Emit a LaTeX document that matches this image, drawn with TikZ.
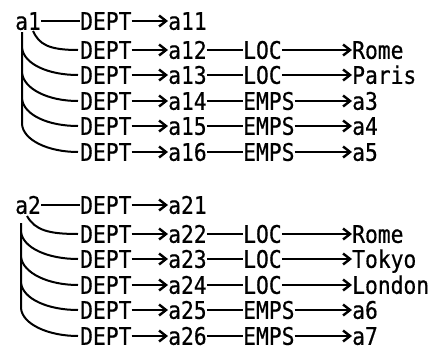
\documentclass[tikz,border=0pt]{standalone}
\usepackage{fontspec}
\newfontfamily\monofont[FakeStretch=0.88, FakeBold=0.6]{DejaVu Sans Mono}
\usetikzlibrary{arrows.meta}

\begin{document}
\begin{tikzpicture}[x=1pt, y=-1pt,
  lbl/.style={inner sep=0pt, anchor=west, text height=17.6pt, text depth=0pt, font=\monofont\fontsize{24.2}{26}\selectfont},
  link/.style={line width=2pt},
  ptr/.style={line width=2pt, -{Straight Barb[length=7pt, width=11pt, line width=2.4pt]}}]
  \useasboundingbox (0,0) rectangle (431,359);
  % first object
  \node[lbl] (src1) at (15,21) {a1};
  \node[lbl] (d11) at (80,21) {DEPT};
  \node[lbl] (n11) at (168,21) {a11};
  \node[lbl] (d12) at (80,50) {DEPT};
  \node[lbl] (n12) at (168,50) {a12};
  \node[lbl] (m12) at (243,50) {LOC};
  \node[lbl] (t12) at (352,50) {Rome};
  \node[lbl] (d13) at (80,75) {DEPT};
  \node[lbl] (n13) at (168,75) {a13};
  \node[lbl] (m13) at (243,75) {LOC};
  \node[lbl] (t13) at (352,75) {Paris};
  \node[lbl] (d14) at (80,101) {DEPT};
  \node[lbl] (n14) at (168,101) {a14};
  \node[lbl] (m14) at (243,101) {EMPS};
  \node[lbl] (t14) at (352,101) {a3};
  \node[lbl] (d15) at (80,126) {DEPT};
  \node[lbl] (n15) at (168,126) {a15};
  \node[lbl] (m15) at (243,126) {EMPS};
  \node[lbl] (t15) at (352,126) {a4};
  \node[lbl] (d16) at (80,152) {DEPT};
  \node[lbl] (n16) at (168,152) {a16};
  \node[lbl] (m16) at (243,152) {EMPS};
  \node[lbl] (t16) at (352,152) {a5};
  \coordinate (s12) at (33,31);
  \coordinate (k13) at (22,48);
  \coordinate (k14) at (22,73);
  \coordinate (k15) at (22,99);
  \coordinate (k16) at (22,124);
  \coordinate (top1) at (22,32);
  \draw[link] (src1) -- (d11);
  \draw[link] (s12) .. controls +(6,13) and +(-30,0) .. ([xshift=-2pt]d12.west);
  \draw[link] (top1) -- (k16) .. controls +(1,16) and +(-30,0) .. ([xshift=-2pt]d16.west);
  \draw[link] (k13) .. controls +(2,16) and +(-30,0) .. ([xshift=-2pt]d13.west);
  \draw[link] (k14) .. controls +(2,16) and +(-30,0) .. ([xshift=-2pt]d14.west);
  \draw[link] (k15) .. controls +(2,16) and +(-30,0) .. ([xshift=-2pt]d15.west);
  \draw[ptr] (d11) -- (n11);
  \draw[ptr] (d12) -- (n12);
  \draw[ptr] (d13) -- (n13);
  \draw[ptr] (d14) -- (n14);
  \draw[ptr] (d15) -- (n15);
  \draw[ptr] (d16) -- (n16);
  \draw[link] (n12) -- (m12);
  \draw[link] (n13) -- (m13);
  \draw[link] (n14) -- (m14);
  \draw[link] (n15) -- (m15);
  \draw[link] (n16) -- (m16);
  \draw[ptr] (m12) -- (t12);
  \draw[ptr] (m13) -- (t13);
  \draw[ptr] (m14) -- (t14);
  \draw[ptr] (m15) -- (t15);
  \draw[ptr] (m16) -- (t16);
  % second object
  \node[lbl] (src2) at (15,205) {a2};
  \node[lbl] (d21) at (80,205) {DEPT};
  \node[lbl] (n21) at (168,205) {a21};
  \node[lbl] (d22) at (80,234) {DEPT};
  \node[lbl] (n22) at (168,234) {a22};
  \node[lbl] (m22) at (243,234) {LOC};
  \node[lbl] (t22) at (352,234) {Rome};
  \node[lbl] (d23) at (80,259) {DEPT};
  \node[lbl] (n23) at (168,259) {a23};
  \node[lbl] (m23) at (243,259) {LOC};
  \node[lbl] (t23) at (352,259) {Tokyo};
  \node[lbl] (d24) at (80,285) {DEPT};
  \node[lbl] (n24) at (168,285) {a24};
  \node[lbl] (m24) at (243,285) {LOC};
  \node[lbl] (t24) at (352,285) {London};
  \node[lbl] (d25) at (80,310) {DEPT};
  \node[lbl] (n25) at (168,310) {a25};
  \node[lbl] (m25) at (243,310) {EMPS};
  \node[lbl] (t25) at (352,310) {a6};
  \node[lbl] (d26) at (80,336) {DEPT};
  \node[lbl] (n26) at (168,336) {a26};
  \node[lbl] (m26) at (243,336) {EMPS};
  \node[lbl] (t26) at (352,336) {a7};
  \coordinate (s22) at (27,216);
  \coordinate (k23) at (21,232);
  \coordinate (k24) at (21,257);
  \coordinate (k25) at (21,283);
  \coordinate (k26) at (21,308);
  \coordinate (top2) at (21,223);
  \draw[link] (src2) -- (d21);
  \draw[link] (s22) .. controls +(8,14) and +(-30,0) .. ([xshift=-2pt]d22.west);
  \draw[link] (top2) -- (k26) .. controls +(1,16) and +(-30,0) .. ([xshift=-2pt]d26.west);
  \draw[link] (k23) .. controls +(2,16) and +(-30,0) .. ([xshift=-2pt]d23.west);
  \draw[link] (k24) .. controls +(2,16) and +(-30,0) .. ([xshift=-2pt]d24.west);
  \draw[link] (k25) .. controls +(2,16) and +(-30,0) .. ([xshift=-2pt]d25.west);
  \draw[ptr] (d21) -- (n21);
  \draw[ptr] (d22) -- (n22);
  \draw[ptr] (d23) -- (n23);
  \draw[ptr] (d24) -- (n24);
  \draw[ptr] (d25) -- (n25);
  \draw[ptr] (d26) -- (n26);
  \draw[link] (n22) -- (m22);
  \draw[link] (n23) -- (m23);
  \draw[link] (n24) -- (m24);
  \draw[link] (n25) -- (m25);
  \draw[link] (n26) -- (m26);
  \draw[ptr] (m22) -- (t22);
  \draw[ptr] (m23) -- (t23);
  \draw[ptr] (m24) -- (t24);
  \draw[ptr] (m25) -- (t25);
  \draw[ptr] (m26) -- (t26);
\end{tikzpicture}
\end{document}
